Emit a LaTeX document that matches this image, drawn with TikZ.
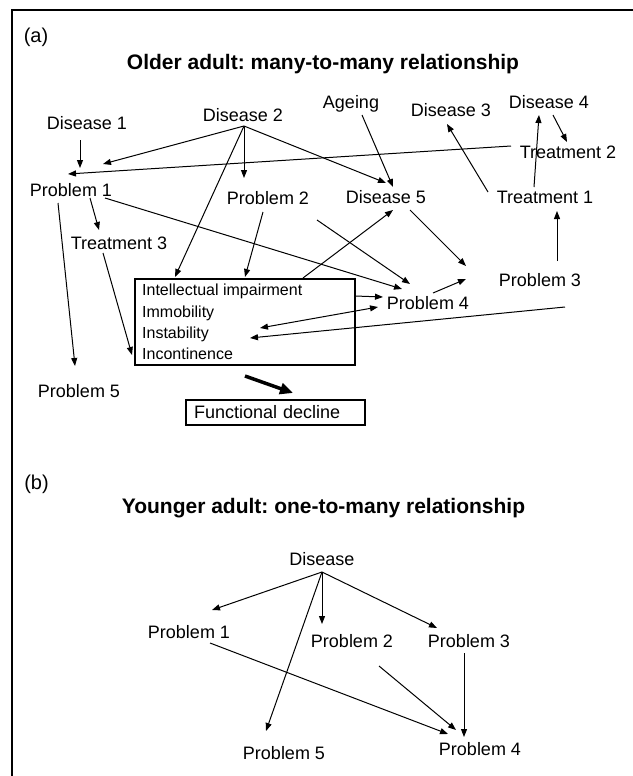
\documentclass[tikz,border=0pt]{standalone}
\usepackage{fontspec}
\setmainfont{Liberation Sans}
\usetikzlibrary{arrows.meta}
\frenchspacing
\begin{document}
\begin{tikzpicture}[x=1pt,y=-1pt,
  lbl/.style={inner sep=0pt, text height=12.9pt, text depth=0pt, font=\fontsize{18}{20}\selectfont},
  ttl/.style={inner sep=0pt, text height=15pt, text depth=0pt, font=\fontsize{21}{24}\selectfont\bfseries},
  tag/.style={inner sep=0pt, text height=14.3pt, text depth=0pt, font=\fontsize{20}{22}\selectfont},
  boxtxt/.style={anchor=west, inner sep=0pt, text height=11.5pt, text depth=0pt, font=\fontsize{16}{18}\selectfont},
  frame/.style={draw, line width=1.1pt},
  arr/.style={-{Triangle[length=8pt,width=6pt]}, line width=1pt},
  dbl/.style={{Triangle[length=8pt,width=6pt]}-{Triangle[length=8pt,width=6pt]}, line width=1pt},
  bigarr/.style={-{Triangle[length=13pt,width=11pt]}, line width=3.5pt}
]
\useasboundingbox (0,0) rectangle (632,776);
\draw[line width=1.5pt] (633,10) -- (12,10) -- (12,777);

% ---------- panel (a) ----------
\node[tag] (taga) at (36,35) {(a)};
\node[ttl] (titlea) at (323,62) {Older adult: many-to-many relationship};
\node[lbl] (d1) at (87,123) {Disease 1};
\node[lbl] (d2) at (243,115) {Disease 2};
\node[lbl] (age) at (351,102) {Ageing};
\node[lbl] (d3) at (451,110) {Disease 3};
\node[lbl] (d4) at (549,102) {Disease 4};
\node[lbl] (t2) at (568,152) {Treatment 2};
\node[lbl] (p1) at (71,190) {Problem 1};
\node[lbl] (p2) at (268,198) {Problem 2};
\node[lbl] (d5) at (386,197) {Disease 5};
\node[lbl] (t1) at (545,197) {Treatment 1};
\node[lbl] (t3) at (119,243) {Treatment 3};
\node[lbl] (p3) at (540,280) {Problem 3};
\node[lbl] (p4) at (428,303) {Problem 4};
\node[lbl] (p5) at (79,391) {Problem 5};
\node[frame, minimum width=220pt, minimum height=86pt, inner sep=0pt] (box) at (245,322) {};
\node[boxtxt] (ii) at (142,290) {Intellectual impairment};
\node[boxtxt] (im) at (142,312) {Immobility};
\node[boxtxt] (is) at (142,333) {Instability};
\node[boxtxt] (ic) at (142,354) {Incontinence};
\node[frame, lbl, text width=163pt, align=left, inner xsep=8pt, inner ysep=0pt, minimum height=25pt] (fd) at (275.5,412.5) {Functional decline};

% connector end points
\coordinate (d1s) at (80,140);   \coordinate (p1a) at (80,168);
\coordinate (d2s) at (244,126);  \coordinate (p1b) at (103,164);
\coordinate (t2w) at (511,146);  \coordinate (p1c) at (68,174);
\coordinate (p2n) at (244,178);  \coordinate (boxa) at (175,277);
\coordinate (d5a) at (386,183);  \coordinate (ages) at (362,115);
\coordinate (d5b) at (393,187);  \coordinate (t1a) at (488,192);
\coordinate (d3s) at (447,124);  \coordinate (t1b) at (534,187);
\coordinate (d4s) at (539,115);  \coordinate (d4r) at (553,115);
\coordinate (t2n) at (567,142);  \coordinate (p1s) at (58,203);
\coordinate (p5n) at (75,366);   \coordinate (p1m) at (90,198);
\coordinate (t3n) at (99,230);   \coordinate (p1r) at (105,198);
\coordinate (p4a) at (402,289);  \coordinate (p2r) at (317,220);
\coordinate (p4b) at (410,284);  \coordinate (t3s) at (103,253);
\coordinate (boxc) at (132,355); \coordinate (p2s) at (263,212);
\coordinate (boxb) at (245,277); \coordinate (boxt) at (303,278);
\coordinate (d5c) at (393,210);  \coordinate (d5r) at (410,210);
\coordinate (free1) at (466,266); \coordinate (p4r) at (433,293);
\coordinate (free2) at (466,279); \coordinate (p3n) at (557,261);
\coordinate (t1s) at (557,211);  \coordinate (boxr) at (355,296);
\coordinate (p4c) at (383,297);  \coordinate (isr) at (260,328);
\coordinate (p4d) at (378,307);  \coordinate (p3w) at (565,307);
\coordinate (isb) at (250,338);  \coordinate (boxs) at (245,376);
\coordinate (fdn) at (293,393);

\draw[arr] (d1s) -- (p1a);
\draw[arr] (d2s) -- (p1b);
\draw[arr] (t2w) -- (p1c);
\draw[arr] (d2s) -- (p2n);
\draw[arr] (d2s) -- (boxa);
\draw[arr] (d2s) -- (d5a);
\draw[arr] (ages) -- (d5b);
\draw[arr] (t1a) -- (d3s);
\draw[arr] (t1b) -- (d4s);
\draw[arr] (d4r) -- (t2n);
\draw[arr] (p1s) -- (p5n);
\draw[arr] (p1m) -- (t3n);
\draw[arr] (p1r) -- (p4a);
\draw[arr] (p2r) -- (p4b);
\draw[arr] (t3s) -- (boxc);
\draw[arr] (p2s) -- (boxb);
\draw[arr] (boxt) -- (d5c);
\draw[arr] (d5r) -- (free1);
\draw[arr] (p4r) -- (free2);
\draw[arr] (p3n) -- (t1s);
\draw[arr] (boxr) -- (p4c);
\draw[dbl] (isr) -- (p4d);
\draw[arr] (p3w) -- (isb);
\draw[bigarr] (boxs) -- (fdn);

% ---------- panel (b) ----------
\node[tag] (tagb) at (36.5,482) {(b)};
\node[ttl] (titleb) at (323.5,506) {Younger adult: one-to-many relationship};
\node[lbl] (dis) at (322,559) {Disease};
\node[lbl] (q1) at (189,632) {Problem 1};
\node[lbl] (q2) at (352,641) {Problem 2};
\node[lbl] (q3) at (469,641) {Problem 3};
\node[lbl] (q5) at (284,753) {Problem 5};
\node[lbl] (q4) at (480,749) {Problem 4};

\coordinate (diss) at (322,572);
\coordinate (q1n) at (212,610);  \coordinate (q2n) at (322,624);
\coordinate (q3n) at (437,628);  \coordinate (q5n) at (266,731);
\coordinate (q1s) at (210,643);  \coordinate (q4a) at (448,734);
\coordinate (q2s) at (379,666);  \coordinate (q4b) at (456,730);
\coordinate (q3s) at (464,653);  \coordinate (q4c) at (464,737);

\draw[arr] (diss) -- (q1n);
\draw[arr] (diss) -- (q2n);
\draw[arr] (diss) -- (q3n);
\draw[arr] (diss) -- (q5n);
\draw[arr] (q1s) -- (q4a);
\draw[arr] (q2s) -- (q4b);
\draw[arr] (q3s) -- (q4c);
\end{tikzpicture}
\end{document}
